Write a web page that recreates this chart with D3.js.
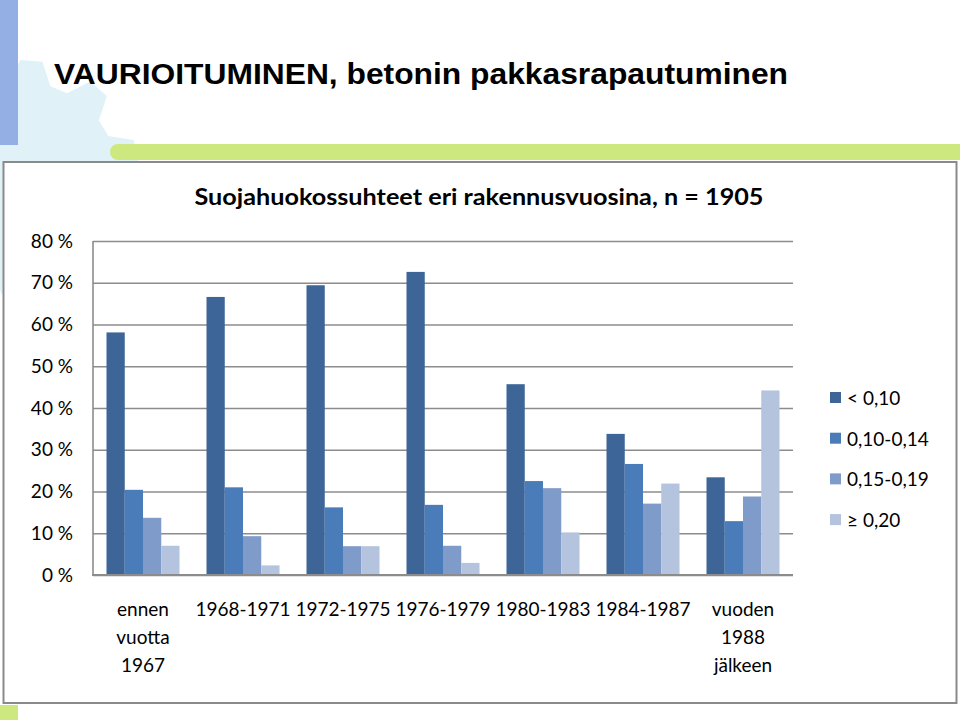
<!DOCTYPE html>
<html><head><meta charset="utf-8">
<script src="https://cdn.jsdelivr.net/npm/d3@7"></script>
<style>body{margin:0;background:#fff}svg{display:block}</style>
</head><body>
<script>
const categories = ["ennen\nvuotta\n1967","1968-1971","1972-1975","1976-1979","1980-1983","1984-1987","vuoden\n1988\njälkeen"];
const seriesNames = ["< 0,10","0,10-0,14","0,15-0,19","≥ 0,20"];
const sLt010   = [58.1, 66.6, 69.4, 72.6, 45.7, 33.8, 23.4];
const s010_014 = [20.4, 21.0, 16.2, 16.8, 22.5, 26.6, 12.9];
const s015_019 = [13.7,  9.3,  6.9,  7.0, 20.8, 17.1, 18.8];
const sGe020   = [ 7.0,  2.3,  6.9,  2.9, 10.2, 21.9, 44.2];
const yTicks = [0,10,20,30,40,50,60,70,80];
const seriesValues = [sLt010, s010_014, s015_019, sGe020];
const colors = ["#3d6598","#4a7cb9","#7f9bc9","#b4c3de"];

const W=960,H=720;
const svg=d3.select("body").append("svg").attr("width",W).attr("height",H);

// gear shape
(function(){
  const cx=22, cy=178, rOut=118, rIn=96, teeth=10;
  const pts=[];
  for(let i=0;i<teeth;i++){
    const a0=i*2*Math.PI/teeth, w=2*Math.PI/teeth;
    pts.push([a0,rIn],[a0+w*0.2,rOut],[a0+w*0.5,rOut],[a0+w*0.7,rIn]);
  }
  const line=d3.lineRadial().angle(d=>d[0]).radius(d=>d[1]).curve(d3.curveLinearClosed);
  svg.append("g").attr("transform",`translate(${cx},${cy}) rotate(-8)`)
    .append("path").attr("d",line(pts)).attr("fill","#e1f1f8");
})();
svg.append("rect").attr("x",0).attr("y",0).attr("width",18).attr("height",145).attr("fill","#93afe3");
svg.append("rect").attr("x",110).attr("y",144).attr("width",850).attr("height",16).attr("rx",8).attr("fill","#cde87f");
svg.append("rect").attr("x",118).attr("y",144).attr("width",842).attr("height",16).attr("fill","#cde87f");
svg.append("rect").attr("x",0).attr("y",705).attr("width",18).attr("height",15).attr("fill","#cde87f");

svg.append("text").attr("x",54).attr("y",84)
  .attr("font-family","Liberation Sans, Arial, sans-serif").attr("font-weight","bold").attr("font-size",29)
  .attr("textLength",734).attr("lengthAdjust","spacingAndGlyphs").attr("fill","#000")
  .text("VAURIOITUMINEN, betonin pakkasrapautuminen");

// chart frame
svg.append("rect").attr("x",3.5).attr("y",162).attr("width",953).attr("height",541)
  .attr("fill","#fff").attr("stroke","#8a8a8a").attr("stroke-width",2);

const font="Lato, 'Open Sans', sans-serif";
svg.append("text").attr("x",479).attr("y",205).attr("text-anchor","middle")
  .attr("font-family",font).attr("font-weight","bold").attr("font-size",22).attr("fill","#000")
  .attr("textLength",569).attr("lengthAdjust","spacingAndGlyphs")
  .text("Suojahuokossuhteet eri rakennusvuosina, n = 1905");

const x0=d3.scaleBand().domain(categories).range([93,793]).paddingInner(0.27).paddingOuter(0.135);
const x1=d3.scaleBand().domain(seriesNames).range([0,x0.bandwidth()]);
const y=d3.scaleLinear().domain([0,80]).range([575,241]);

// grid + y axis
const ya=svg.append("g").attr("transform","translate(93,0)")
  .call(d3.axisLeft(y).tickValues(yTicks).tickSize(-700).tickPadding(20).tickFormat(d=>d+" %"));
ya.select(".domain").remove();
ya.selectAll(".tick line").attr("stroke","#8c8c8c").attr("stroke-width",1.6);
ya.selectAll(".tick text").attr("font-family",font).attr("font-size",19).attr("fill","#000");

// bars
const groups=svg.append("g").selectAll("g").data(categories).join("g")
  .attr("transform",d=>`translate(${x0(d)},0)`);
groups.selectAll("rect").data((d,i)=>seriesNames.map((s,j)=>({s,j,v:seriesValues[j][i]}))).join("rect")
  .attr("x",d=>x1(d.s)).attr("width",x1.bandwidth())
  .attr("y",d=>y(d.v)).attr("height",d=>y(0)-y(d.v)).attr("fill",d=>colors[d.j]);

// axis lines
svg.append("line").attr("x1",93).attr("x2",93).attr("y1",241).attr("y2",576).attr("stroke","#8c8c8c").attr("stroke-width",1.6);
svg.append("line").attr("x1",92).attr("x2",793).attr("y1",575).attr("y2",575).attr("stroke","#8c8c8c").attr("stroke-width",2);

// x labels
const xa=svg.append("g").attr("transform","translate(0,575)")
  .call(d3.axisBottom(x0).tickSize(0).tickFormat(""));
xa.select(".domain").remove();
xa.selectAll(".tick").each(function(d){
  const t=d3.select(this).append("text").attr("text-anchor","middle")
    .attr("font-family",font).attr("font-size",19).attr("fill","#000");
  d.split("\n").forEach((ln,k)=>t.append("tspan").attr("x",0).attr("y",41+k*28).text(ln));
});

// legend
const lg=svg.append("g").selectAll("g").data(seriesNames).join("g")
  .attr("transform",(d,i)=>`translate(830,${398+i*40.7})`);
lg.append("rect").attr("x",0).attr("y",-6).attr("width",11).attr("height",11).attr("fill",(d,i)=>colors[i]);
lg.append("text").attr("x",17).attr("y",7).attr("font-family",font).attr("font-size",19).attr("fill","#000").text(d=>d);
</script>
</body></html>
